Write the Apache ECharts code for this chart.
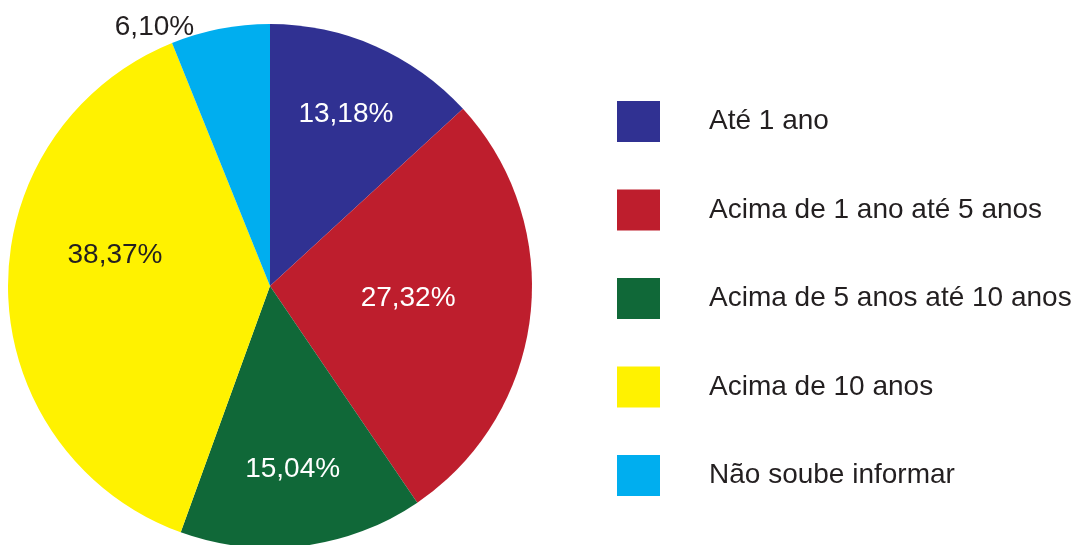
<!DOCTYPE html>
<html>
<head>
<meta charset="utf-8">
<script src="https://cdn.jsdelivr.net/npm/echarts@6/dist/echarts.min.js"></script>
<style>
  html, body { margin: 0; padding: 0; background: #fff; }
  #pieChart { width: 1086px; height: 545px; }
</style>
</head>
<body>
<div id="pieChart"></div>
<script>
// data
var categories = ['Até 1 ano', 'Acima de 1 ano até 5 anos', 'Acima de 5 anos até 10 anos', 'Acima de 10 anos', 'Não soube informar'];
var values = [13.18, 27.32, 15.04, 38.37, 6.10];
var colors = ['#303192', '#be1e2d', '#106838', '#fff200', '#00aeef'];
var labelColors = ['#ffffff', '#ffffff', '#ffffff', '#231f20', '#231f20'];
// nudges from the default inside label spot
var labelOffsets = [[22, -49], [5, -3], [6, 50], [-21, -33], [-90, -127]];

var pie = echarts.init(document.getElementById('pieChart'));
var fontName = 'Liberation Sans';

var pieData = categories.map(function (name, i) {
    return {
        name: name,
        value: values[i],
        itemStyle: { color: colors[i] },
        label: { color: labelColors[i], offset: labelOffsets[i] }
    };
});

var option = {
    animation: false,
    legend: {
        orient: 'vertical',
        left: 617,
        top: 101,
        padding: 0,
        itemWidth: 43,
        itemHeight: 41,
        itemGap: 47.5,
        icon: 'rect',
        selectedMode: false,
        textStyle: {
            fontFamily: fontName,
            fontSize: 28,
            color: '#231f20',
            padding: [0, 0, 0, 44]
        },
        data: categories
    },
    series: [{
        type: 'pie',
        center: [270, 286],
        radius: 262,
        startAngle: 90,
        clockwise: true,
        silent: true,
        itemStyle: { borderWidth: 0 },
        label: {
            show: true,
            position: 'inside',
            fontFamily: fontName,
            fontSize: 28,
            formatter: function (p) {
                return p.value.toFixed(2).replace('.', ',') + '%';
            }
        },
        labelLine: { show: false },
        data: pieData
    }]
};

if (option && typeof option === "object") {
    pie.setOption(option, true);
}
</script>
</body>
</html>
